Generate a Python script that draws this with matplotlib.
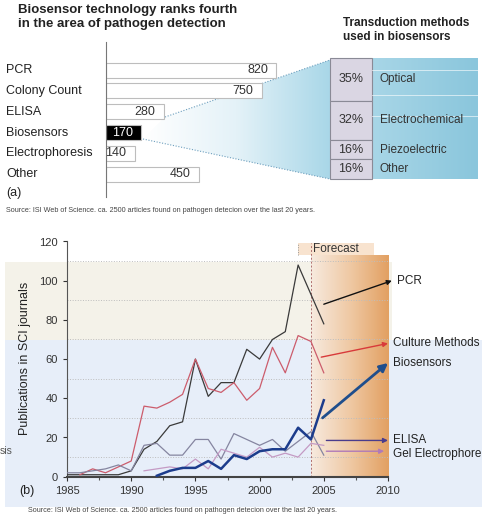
import numpy as np
import matplotlib
matplotlib.use('Agg')
import matplotlib.pyplot as plt
from matplotlib.patches import Polygon, Rectangle
from matplotlib.colors import LinearSegmentedColormap
from matplotlib.ticker import MultipleLocator

plt.rcParams['font.family'] = ['Liberation Sans', 'DejaVu Sans']

# (a) articles found per detection method
methods = ['PCR', 'Colony Count', 'ELISA', 'Biosensors', 'Electrophoresis', 'Other']
articles = [820, 750, 280, 170, 140, 450]

# transduction methods used in biosensors (%)
transduction = ['Optical', 'Electrochemical', 'Piezoelectric', 'Other']
share = [35, 32, 16, 16]

# (b) publications in SCI journals per year
pcr_years = list(range(1985, 2006))
pcr = [1, 1, 1, 1, 1, 3, 14, 18, 26, 28, 60, 41, 48, 48, 65, 60, 70, 74, 108, 93, 78]
culture_years = list(range(1986, 2006))
culture = [1, 4, 2, 5, 8, 36, 35, 38, 42, 60, 45, 43, 48, 39, 45, 66, 53, 72, 69, 53]
elisa_years = list(range(1985, 2006))
elisa = [2, 2, 3, 4, 6, 3, 16, 17, 11, 11, 19, 19, 9, 22, 19, 16, 19, 13, 18, 23, 11]
gel_years = list(range(1991, 2006))
gel = [3, 4, 5, 4, 9, 4, 14, 12, 10, 15, 10, 12, 10, 17, 16]
bio_years = list(range(1992, 2006))
bio = [0.5, 3, 4.5, 4.5, 8, 4, 11, 9, 13, 14, 14, 25, 19, 39]

# forecast arrows: (start year, start value, end year, end value)
forecast = {
    'PCR': (2005.0, 88, 2010.3, 100),
    'Culture Methods': (2004.8, 61, 2010.0, 68),
    'Biosensors': (2004.9, 30, 2010.0, 58),
    'ELISA': (2005.2, 18.5, 2010.0, 18.5),
    'Gel Electrophore': (2005.2, 13, 2009.7, 13),
}
forecast_colors = {'PCR': '#111111', 'Culture Methods': '#d83a3a', 'Biosensors': '#1f4e8c',
                   'ELISA': '#4a3c8c', 'Gel Electrophore': '#b07ab8'}

W, H = 482, 518
fig = plt.figure(figsize=(W / 100, H / 100), dpi=100)


def frac(x0, y0, x1, y1):
    return [x0 / W, 1 - y1 / H, (x1 - x0) / W, (y1 - y0) / H]


bg = fig.add_axes([0, 0, 1, 1], zorder=0)
bg.axis('off')

# ---- top panel ----
bg.text(18, 4, 'Biosensor technology ranks fourth\nin the area of pathogen detection',
        va='top', ha='left', fontsize=9.5, fontweight='bold', color='#222222', linespacing=1.2)
bg.text(343, 17, 'Transduction methods\nused in biosensors', va='top', ha='left',
        fontsize=8.5, fontweight='bold', color='#222222', linespacing=1.2)

fan = Polygon([(165, 117), (330, 60), (330, 179), (143, 139)], closed=True, fc='none', ec='none')
bg.add_patch(fan)
fan_cmap = LinearSegmentedColormap.from_list('fan', ['#ffffff', '#e4f2f8', '#a9d7e8'])
im = bg.imshow(np.linspace(0, 1, 256)[None, :], cmap=fan_cmap, extent=(143, 330, 179, 58), aspect='auto')
im.set_clip_path(fan)
bg.plot([165, 330], [117, 60], ls=(0, (1, 1.5)), color='#6d9fbe', lw=0.8)
bg.plot([143, 330], [139, 179], ls=(0, (1, 1.5)), color='#6d9fbe', lw=0.8)

box_cmap = LinearSegmentedColormap.from_list('box', ['#a8d6e7', '#8ac6dc'])
bg.imshow(np.linspace(0, 1, 256)[None, :], cmap=box_cmap, extent=(372, 478, 179, 58), aspect='auto')
for yy in [70, 95, 116]:
    bg.plot([372, 478], [yy, yy], color='white', lw=0.7, alpha=0.6)

top = 58.0
scale = (179 - 58) / sum(share)
for name, s in zip(transduction, share):
    h = s * scale
    bg.add_patch(Rectangle((330, top), 42, h, fc='#dad6e3', ec='#8a8a96', lw=0.8))
    bg.text(351, top + h / 2, '%d%%' % s, ha='center', va='center', fontsize=9, color='#333333')
    bg.text(380, top + h / 2, name, ha='left', va='center', fontsize=8.5, color='#333333')
    top += h

ax1 = fig.add_axes(frac(105.5, 42, 314, 197), zorder=2)
ax1.set_facecolor('none')
colors = ['black' if m == 'Biosensors' else 'white' for m in methods]
ax1.barh(range(len(methods)), articles, height=0.72, color=colors, edgecolor='#bdbdbd', lw=0.8)
for i, (m, v) in enumerate(zip(methods, articles)):
    ax1.text(v - 40, i, str(v), ha='right', va='center', fontsize=9,
             color='white' if m == 'Biosensors' else '#333333')
    ax1.text(-0.477, i, m, transform=ax1.get_yaxis_transform(), ha='left', va='center',
             fontsize=9, color='#222222')
ax1.set_xlim(0, 1000)
ax1.set_ylim(6.1, -1.35)
for s in ['top', 'right', 'bottom']:
    ax1.spines[s].set_visible(False)
ax1.spines['left'].set_color('#777777')
ax1.spines['left'].set_linewidth(0.8)
ax1.set_xticks([])
ax1.set_yticks([])

bg.text(6, 193, '(a)', ha='left', va='center', fontsize=9, color='#222222')
bg.text(6, 211, 'Source: ISI Web of Science. ca. 2500 articles found on pathogen detecion over the last 20 years.',
        ha='left', va='center', fontsize=5.2, color='#444444')

# ---- bottom panel ----
bg.add_patch(Rectangle((5, 262), 387, 78, fc='#f4f2e9', ec='none'))
bg.add_patch(Rectangle((5, 340), 477, 167, fc='#e7eef9', ec='none'))
bg.text(25, 358, 'Publications in SCI journals', rotation=90, ha='center', va='center',
        fontsize=9, color='#222222')
bg.text(27, 491, '(b)', ha='center', va='center', fontsize=9, color='#222222')
bg.text(0, 451, 'sis', ha='left', va='center', fontsize=7.5, color='#555555')
bg.text(28, 510, 'Source: ISI Web of Science. ca. 2500 articles found on pathogen detecion over the last 20 years.',
        ha='left', va='center', fontsize=5.2, color='#444444')
bg.set_xlim(0, W)
bg.set_ylim(H, 0)

ax2 = fig.add_axes(frac(67, 241.5, 388, 476.7), zorder=3)
ax2.set_facecolor('none')
fc_cmap = LinearSegmentedColormap.from_list('fc', ['#f7eadf', '#efc9a4', '#e2a062'])
ax2.imshow(np.linspace(0, 1, 256)[None, :], cmap=fc_cmap, extent=(2004, 2010, 0, 113),
           aspect='auto', zorder=0)
ax2.add_patch(Rectangle((2003, 113), 5.9, 6, fc='#f8e3cf', ec='none', zorder=0))
ax2.text(2005.95, 116, 'Forecast', ha='center', va='center', fontsize=8.5, color='#333333')
ax2.plot([2003, 2003], [113, 119], ls=(0, (1, 1.5)), color='#999999', lw=0.7)
ax2.plot([2004, 2004], [0, 119], ls=(0, (2, 2)), color='#b07070', lw=0.7)
ax2.hlines([10, 30, 50, 70, 90, 110], 1985, 2010, colors='#bdbdbd', linestyles=':', lw=0.7, zorder=1)

ax2.plot(pcr_years, pcr, color='#3a3a3a', lw=0.9, zorder=3)
ax2.plot(culture_years, culture, color='#cc5c6c', lw=0.9, zorder=3)
ax2.plot(elisa_years, elisa, color='#8585a0', lw=0.9, zorder=3)
ax2.plot(gel_years, gel, color='#c49ac4', lw=0.9, zorder=3)
ax2.plot(bio_years, bio, color='#1c3c8c', lw=1.8, zorder=4)

for name, (x0, y0, x1, y1) in forecast.items():
    c = forecast_colors[name]
    thick = name == 'Biosensors'
    ax2.annotate('', xy=(x1, y1), xytext=(x0, y0), annotation_clip=False,
                 arrowprops=dict(arrowstyle='-|>', color=c, lw=2.0 if thick else 1.0,
                                 mutation_scale=12 if thick else 7, shrinkA=0, shrinkB=0))
    ax2.text(2010.4 if name != 'PCR' else 2010.7, y1 + (-1.5 if name == 'Gel Electrophore' else 0), name,
             ha='left', va='center', fontsize=8.5, color='#222222', clip_on=False)

ax2.set_xlim(1985, 2010)
ax2.set_ylim(0, 120)
ax2.set_xticks(range(1985, 2011, 5))
ax2.xaxis.set_minor_locator(MultipleLocator(2.5))
ax2.set_yticks(range(0, 121, 20))
ax2.tick_params(labelsize=8, colors='#333333', length=3, width=0.8)
ax2.tick_params(which='minor', length=2, width=0.8, colors='#555555')
ax2.spines['top'].set_visible(False)
ax2.spines['right'].set_visible(False)
ax2.spines['left'].set_color('#555555')
ax2.spines['bottom'].set_color('#444444')
ax2.spines['bottom'].set_linewidth(1.5)

fig.savefig('out.png', dpi=100)
